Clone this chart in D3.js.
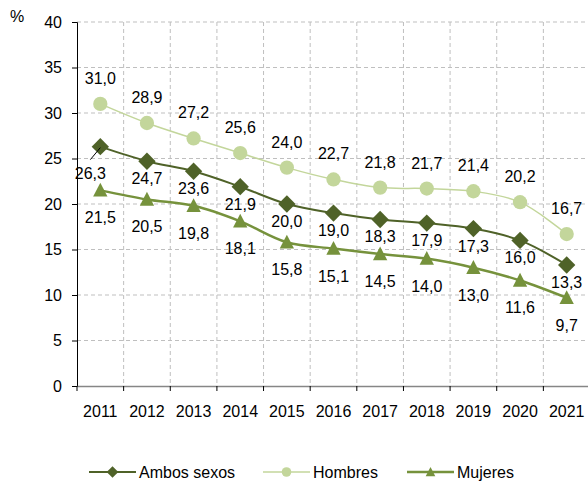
<!DOCTYPE html>
<html>
<head>
<meta charset="utf-8">
<script src="https://cdn.jsdelivr.net/npm/d3@7"></script>
<style>
  body { margin: 0; background: #fff; }
  svg { display: block; font-family: "Liberation Sans", Arial, sans-serif; }
</style>
</head>
<body>
<script>
const WIDTH = 588;
const HEIGHT = 482;
const LEFT = 77, RIGHT = 590, TOP = 22, BOTTOM = 386;

const YEARS = ["2011", "2012", "2013", "2014", "2015", "2016", "2017", "2018", "2019", "2020", "2021"];
const AMBOS = [26.3, 24.7, 23.6, 21.9, 20.0, 19.0, 18.3, 17.9, 17.3, 16.0, 13.3];
const HOMBRES = [31.0, 28.9, 27.2, 25.6, 24.0, 22.7, 21.8, 21.7, 21.4, 20.2, 16.7];
const MUJERES = [21.5, 20.5, 19.8, 18.1, 15.8, 15.1, 14.5, 14.0, 13.0, 11.6, 9.7];
const Y_TICKS = [0, 5, 10, 15, 20, 25, 30, 35, 40];

// diamond = square turned 45deg, triangle a bit squatter than d3's
const diamond = { draw(ctx, size) { const r = Math.sqrt(size) / 2 * Math.SQRT2;
  ctx.moveTo(0, -r); ctx.lineTo(r, 0); ctx.lineTo(0, r); ctx.lineTo(-r, 0); ctx.closePath(); } };
const triangle = { draw(ctx, size) { const h = Math.sqrt(size);
  ctx.moveTo(0, -h * 0.55); ctx.lineTo(h * 0.52, h * 0.45); ctx.lineTo(-h * 0.52, h * 0.45); ctx.closePath(); } };

const SERIES = [
  { name: "Ambos sexos", values: AMBOS, color: "#4f6228", width: 2, symbol: diamond, size: 150, dy: 23 },
  { name: "Hombres", values: HOMBRES, color: "#c3d69b", width: 1.5, symbol: d3.symbolCircle, size: 160, dy: -20 },
  { name: "Mujeres", values: MUJERES, color: "#76923c", width: 2.5, symbol: triangle, size: 190, dy: 33 }
];

const svg = d3.select("body").append("svg")
  .attr("width", WIDTH)
  .attr("height", HEIGHT);

const x = d3.scaleBand().domain(YEARS).range([LEFT, RIGHT]);
const y = d3.scaleLinear().domain([0, 40]).range([BOTTOM, TOP]);
const cx = d => x(d) + x.bandwidth() / 2;

// grid
svg.append("g")
  .selectAll("line.h")
  .data(Y_TICKS.filter(d => d > 0))
  .join("line")
  .attr("x1", LEFT).attr("x2", RIGHT)
  .attr("y1", d => y(d)).attr("y2", d => y(d))
  .attr("stroke", "#bfbfbf").attr("stroke-dasharray", "4,3");

svg.append("g")
  .selectAll("line.v")
  .data(YEARS.slice(1))
  .join("line")
  .attr("x1", d => x(d)).attr("x2", d => x(d))
  .attr("y1", TOP).attr("y2", BOTTOM)
  .attr("stroke", "#bfbfbf").attr("stroke-dasharray", "4,3");

// axes
const yAxis = svg.append("g")
  .attr("transform", "translate(" + LEFT + ",0)")
  .call(d3.axisLeft(y).tickValues(Y_TICKS).tickSize(5).tickPadding(10));
yAxis.select(".domain").attr("stroke", "#000");
yAxis.selectAll("text").attr("font-size", 16).attr("fill", "#000").attr("font-family", null);

const xAxis = svg.append("g")
  .attr("transform", "translate(0," + BOTTOM + ")")
  .call(d3.axisBottom(x).tickSize(0).tickPadding(20).tickSizeOuter(0));
xAxis.select(".domain").attr("stroke", "#868686").attr("stroke-width", 1.5);
xAxis.selectAll("text").attr("font-size", 16).attr("fill", "#000").attr("font-family", null);
xAxis.selectAll(".tick").append("line")
  .attr("x1", -x.bandwidth() / 2).attr("x2", -x.bandwidth() / 2)
  .attr("y1", 0).attr("y2", 5)
  .attr("stroke", "#000");

svg.append("text")
  .attr("x", 10).attr("y", 22)
  .attr("font-size", 16)
  .text("%");

// lines + markers
const line = d3.line()
  .x((d, i) => cx(YEARS[i]))
  .y(d => y(d))
  .curve(d3.curveCatmullRom.alpha(0.5));

SERIES.forEach(s => {
  svg.append("path")
    .datum(s.values)
    .attr("fill", "none")
    .attr("stroke", s.color)
    .attr("stroke-width", s.width)
    .attr("d", line);
});

SERIES.forEach(s => {
  svg.append("g")
    .selectAll("path")
    .data(s.values)
    .join("path")
    .attr("transform", (d, i) => "translate(" + cx(YEARS[i]) + "," + y(d) + ")")
    .attr("d", d3.symbol(s.symbol, s.size))
    .attr("fill", s.color);
});

// data labels (the first "Ambos" label was dragged down-left in the original)
const moved = (si, i) => si === 0 && i === 0;
SERIES.forEach((s, si) => {
  svg.append("g")
    .selectAll("text")
    .data(s.values)
    .join("text")
    .attr("x", (d, i) => cx(YEARS[i]) - (moved(si, i) ? 10 : 0))
    .attr("y", (d, i) => y(d) + s.dy + (moved(si, i) ? 9 : 0))
    .attr("text-anchor", "middle")
    .attr("font-size", 16)
    .text(d => d.toFixed(1).replace(".", ","));
});

// leader line for the moved 26,3 label
svg.append("line")
  .attr("x1", cx(YEARS[0]) - 10).attr("y1", y(AMBOS[0]) + 13)
  .attr("x2", cx(YEARS[0])).attr("y2", y(AMBOS[0]) + 1)
  .attr("stroke", "#000");

// legend
const LEGEND_X = [89, 263, 407];
const legend = svg.append("g").attr("transform", "translate(0,472)");
SERIES.forEach((s, i) => {
  const g = legend.append("g").attr("transform", "translate(" + LEGEND_X[i] + ",0)");
  g.append("line").attr("x1", 0).attr("x2", 47)
    .attr("stroke", s.color).attr("stroke-width", s.width);
  g.append("path")
    .attr("transform", "translate(23.5,0)")
    .attr("d", d3.symbol(s.symbol, s.size * 0.45))
    .attr("fill", s.color);
  g.append("text")
    .attr("x", 50).attr("y", 6)
    .attr("font-size", 16)
    .text(s.name);
});
</script>
</body>
</html>
